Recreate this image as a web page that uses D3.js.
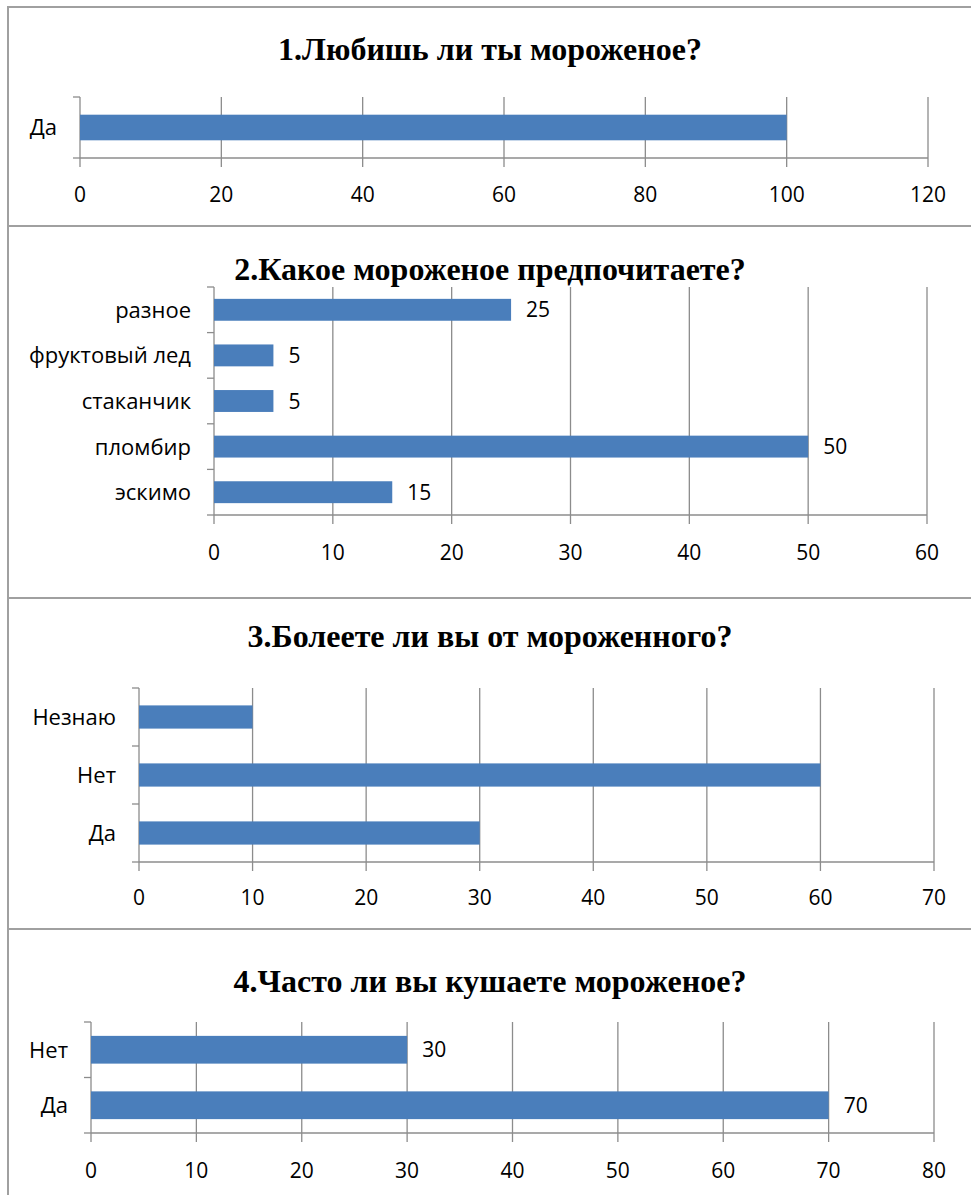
<!DOCTYPE html>
<html>
<head>
<meta charset="utf-8">
<script src="https://cdn.jsdelivr.net/npm/d3@7"></script>
<style>
  body { margin: 0; background: #fff; }
  svg { display: block; }
</style>
</head>
<body>
<svg width="971" height="1195"></svg>
<script>
// данные
var titles = [
  "1.Любишь ли ты мороженое?",
  "2.Какое мороженое предпочитаете?",
  "3.Болеете ли вы от мороженного?",
  "4.Часто ли вы кушаете мороженое?"
];
var cats1 = ["Да"];
var vals1 = [100];
var ticks1 = [0, 20, 40, 60, 80, 100, 120];

var cats2 = ["разное", "фруктовый лед", "стаканчик", "пломбир", "эскимо"];
var vals2 = [25, 5, 5, 50, 15];
var ticks2 = [0, 10, 20, 30, 40, 50, 60];

var cats3 = ["Незнаю", "Нет", "Да"];
var vals3 = [10, 60, 30];
var ticks3 = [0, 10, 20, 30, 40, 50, 60, 70];

var cats4 = ["Нет", "Да"];
var vals4 = [30, 70];
var ticks4 = [0, 10, 20, 30, 40, 50, 60, 70, 80];

var svg = d3.select("svg");
var grey = "#8c8c8c";
var barColor = "#4a7ebb";
var sans = "'Open Sans', 'Noto Sans', sans-serif";

// рамки
[7, 226, 598, 929].forEach(function(y){
  svg.append("line").attr("x1", 8).attr("x2", 971).attr("y1", y).attr("y2", y)
    .attr("stroke", "#a0a0a0").attr("stroke-width", 2);
});
svg.append("line").attr("x1", 8).attr("x2", 8).attr("y1", 6).attr("y2", 1195)
  .attr("stroke", "#a0a0a0").attr("stroke-width", 2);

var panels = [
  {title: titles[0], cats: cats1, vals: vals1, ticks: ticks1, titleY: 60,
   x0: 80, x1: 928, top: 97, bottom: 158, tickY: 202, pad: 0.58, labels: false},
  {title: titles[1], cats: cats2, vals: vals2, ticks: ticks2, titleY: 280,
   x0: 214, x1: 927, top: 287, bottom: 515, tickY: 560, pad: 0.52, labels: true},
  {title: titles[2], cats: cats3, vals: vals3, ticks: ticks3, titleY: 647,
   x0: 139, x1: 934, top: 688, bottom: 862, tickY: 905, pad: 0.6, labels: false},
  {title: titles[3], cats: cats4, vals: vals4, ticks: ticks4, titleY: 992,
   x0: 91, x1: 934, top: 1022, bottom: 1133, tickY: 1178, pad: 0.5, labels: true}
];

panels.forEach(function(p){
  var g = svg.append("g");
  var x = d3.scaleLinear()
    .domain([0, p.ticks[p.ticks.length - 1]])
    .range([p.x0, p.x1]);
  var y = d3.scaleBand()
    .domain(p.cats)
    .range([p.top, p.bottom])
    .paddingInner(p.pad)
    .paddingOuter(p.pad / 2);

  g.append("text")
    .attr("x", 490).attr("y", p.titleY)
    .attr("text-anchor", "middle")
    .attr("font-family", "'Liberation Serif', 'Times New Roman', serif")
    .attr("font-weight", "bold")
    .attr("font-size", 32)
    .text(p.title);

  // сетка
  g.selectAll("line.grid").data(p.ticks).enter().append("line")
    .attr("class", "grid")
    .attr("x1", function(d){ return x(d); })
    .attr("x2", function(d){ return x(d); })
    .attr("y1", p.top)
    .attr("y2", p.bottom + 9)
    .attr("stroke", grey).attr("stroke-width", 1.3);

  // ось категорий
  var step = y.step();
  var marks = d3.range(p.cats.length + 1).map(function(i){ return p.top + i * step; });
  g.selectAll("line.ctick").data(marks).enter().append("line")
    .attr("class", "ctick")
    .attr("x1", p.x0 - 7).attr("x2", p.x0)
    .attr("y1", function(d){ return d; })
    .attr("y2", function(d){ return d; })
    .attr("stroke", grey).attr("stroke-width", 1.3);
  g.append("line")
    .attr("x1", p.x0).attr("x2", p.x1)
    .attr("y1", p.bottom).attr("y2", p.bottom)
    .attr("stroke", grey).attr("stroke-width", 1.5);

  // столбцы
  g.selectAll("rect").data(p.vals).enter().append("rect")
    .attr("x", x(0))
    .attr("y", function(d, i){ return y(p.cats[i]); })
    .attr("width", function(d){ return x(d) - x(0); })
    .attr("height", y.bandwidth())
    .attr("fill", barColor);

  g.selectAll("text.cat").data(p.cats).enter().append("text")
    .attr("class", "cat")
    .attr("x", p.x0 - 23)
    .attr("y", function(d){ return y(d) + y.bandwidth() / 2; })
    .attr("dy", "0.36em")
    .attr("text-anchor", "end")
    .attr("font-family", sans).attr("font-size", 22)
    .text(function(d){ return d; });

  g.selectAll("text.tick").data(p.ticks).enter().append("text")
    .attr("class", "tick")
    .attr("x", function(d){ return x(d); })
    .attr("y", p.tickY)
    .attr("text-anchor", "middle")
    .attr("font-family", sans).attr("font-size", 21)
    .text(function(d){ return d; });

  if (p.labels) {
    g.selectAll("text.val").data(p.vals).enter().append("text")
      .attr("class", "val")
      .attr("x", function(d){ return x(d) + 15; })
      .attr("y", function(d, i){ return y(p.cats[i]) + y.bandwidth() / 2; })
      .attr("dy", "0.36em")
      .attr("font-family", sans).attr("font-size", 21)
      .text(function(d){ return d; });
  }
});
</script>
</body>
</html>
